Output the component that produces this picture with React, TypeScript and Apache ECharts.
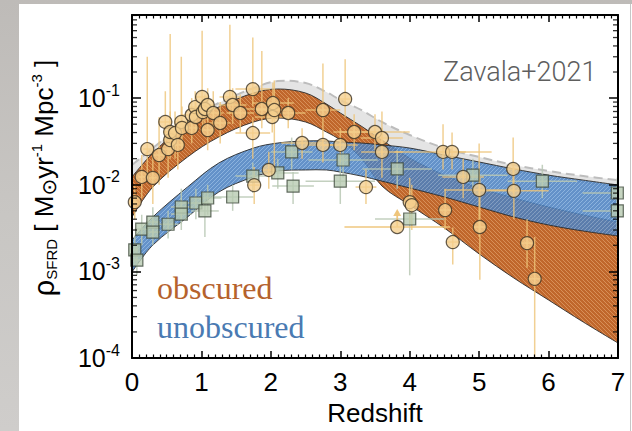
import React, { useEffect, useRef } from "react";
import * as echarts from "echarts";

// ---------- data ----------
// x grid shared by the model bands (redshift)
const bandZ = [0, 0.3, 0.8, 1.25, 1.75, 2.1, 2.5, 2.8, 3.0, 3.3, 3.6, 4.0, 4.5, 5.0, 5.5, 6.0, 6.5, 7.0];
// obscured (orange) band
const obscUpper = [0.0123, 0.0232, 0.0516, 0.0789, 0.1145, 0.1274, 0.1145, 0.0855, 0.0673, 0.0476, 0.0328, 0.0203, 0.0129, 0.00917, 0.00703, 0.00553, 0.00448, 0.00371];
const obscLower = [0.00424, 0.00941, 0.0209, 0.0356, 0.053, 0.0589, 0.053, 0.0406, 0.0328, 0.0203, 0.00966, 0.00583, 0.00316, 0.00159, 0.000838, 0.000467, 0.00026, 0.000149];
// unobscured (blue) band
const unobUpper = [0.0023, 0.00424, 0.00941, 0.0178, 0.0265, 0.0303, 0.032, 0.032, 0.0311, 0.0303, 0.0288, 0.0265, 0.022, 0.0183, 0.0152, 0.0129, 0.0113, 0.00993];
const unobLower = [0.000984, 0.00201, 0.00424, 0.00824, 0.0123, 0.0144, 0.0148, 0.0148, 0.014, 0.0126, 0.011, 0.00917, 0.00722, 0.00553, 0.00424, 0.00343, 0.00292, 0.00256];
// total (grey) band
const totalUpper = [0.0169, 0.0265, 0.0558, 0.0878, 0.1306, 0.1574, 0.1493, 0.1175, 0.0951, 0.0729, 0.053, 0.0375, 0.0265, 0.0209, 0.0169, 0.0144, 0.0126, 0.0113];
const totalLower = [0.00993, 0.0193, 0.0428, 0.0673, 0.1002, 0.1086, 0.1002, 0.0769, 0.0589, 0.0406, 0.028, 0.0239, 0.0203, 0.0169, 0.014, 0.012, 0.0105, 0.00917];

// measurements: [redshift, SFRD, redshift half-width, lower, upper]
const circles: number[][] = [
  [0.04, 0.0063, 0.04, 0.004, 0.01],
  [0.14, 0.0123, 0.05, 0.007, 0.022],
  [0.22, 0.0258, 0.06, 0.012, 0.3],
  [0.3, 0.012, 0.05, 0.006, 0.03],
  [0.39, 0.022, 0.1, 0.01, 0.06],
  [0.48, 0.053, 0.1, 0.03, 0.12],
  [0.52, 0.0258, 0.1, 0.012, 0.05],
  [0.55, 0.0328, 0.1, 0.02, 0.55],
  [0.55, 0.0406, 0.1, 0.025, 0.07],
  [0.62, 0.0395, 0.1, 0.02, 0.07],
  [0.66, 0.0288, 0.1, 0.015, 0.06],
  [0.71, 0.053, 0.1, 0.03, 0.3],
  [0.72, 0.0452, 0.1, 0.025, 0.08],
  [0.86, 0.0452, 0.1, 0.03, 0.07],
  [0.86, 0.0638, 0.15, 0.04, 0.1],
  [0.91, 0.0788, 0.1, 0.05, 0.12],
  [0.92, 0.0605, 0.1, 0.04, 0.09],
  [1.01, 0.103, 0.1, 0.07, 0.6],
  [1.02, 0.069, 0.1, 0.045, 0.1],
  [1.05, 0.0748, 0.15, 0.05, 0.11],
  [1.09, 0.0832, 0.1, 0.055, 0.13],
  [1.09, 0.0428, 0.1, 0.025, 0.07],
  [1.17, 0.0673, 0.15, 0.04, 0.12],
  [1.27, 0.0516, 0.15, 0.03, 0.09],
  [1.41, 0.103, 0.15, 0.065, 0.7],
  [1.45, 0.0832, 0.2, 0.05, 0.13],
  [1.56, 0.0673, 0.2, 0.04, 0.11],
  [1.74, 0.127, 0.25, 0.08, 0.5],
  [1.74, 0.0395, 0.25, 0.02, 0.06],
  [1.76, 0.0099, 0.1, 0.006, 0.016],
  [1.87, 0.0748, 0.25, 0.045, 0.35],
  [1.97, 0.0148, 0.1, 0.009, 0.024],
  [2.02, 0.0605, 0.25, 0.04, 0.09],
  [2.03, 0.0877, 0.3, 0.055, 0.15],
  [2.05, 0.0728, 0.25, 0.012, 0.16],
  [2.25, 0.0673, 0.25, 0.045, 0.1],
  [2.45, 0.0303, 0.3, 0.02, 0.045],
  [2.75, 0.0728, 0.25, 0.045, 0.25],
  [2.75, 0.0288, 0.25, 0.018, 0.045],
  [3.0, 0.0288, 0.25, 0.018, 0.045],
  [3.07, 0.0975, 0.1, 0.06, 0.28],
  [3.2, 0.0406, 0.3, 0.025, 0.065],
  [3.37, 0.0094, 0.15, 0.006, 0.015],
  [3.5, 0.0406, 0.5, 0.025, 0.065],
  [3.6, 0.0346, 0.3, 0.022, 0.07],
  [3.6, 0.0239, 0.3, 0.012, 0.045],
  [4.0, 0.0063, 0.1, 0.0035, 0.012],
  [4.03, 0.0058, 0.1, 0.003, 0.01],
  [4.48, 0.0239, 0.7, 0.015, 0.05],
  [4.61, 0.0239, 0.2, 0.015, 0.04],
  [4.51, 0.0051, 0.1, 0.003, 0.009],
  [4.62, 0.00218, 0.1, 0.0012, 0.0032],
  [4.77, 0.0123, 0.3, 0.007, 0.02],
  [5.0, 0.0087, 0.5, 0.0025, 0.03],
  [5.01, 0.00325, 0.1, 0.0008, 0.012],
  [5.49, 0.0152, 0.1, 0.008, 0.035],
  [5.5, 0.0085, 0.5, 0.004, 0.016],
  [5.69, 0.00212, 0.1, 0.0011, 0.004],
  [5.8, 0.00082, 0.1, 0.0001, 0.0025],
];
// lower limit: [redshift, SFRD, redshift half-width]
const circleLowerLimits: number[][] = [[3.82, 0.00325, 0.76]];

const squares: number[][] = [
  [0.04, 0.00177, 0.04, 0.0012, 0.0026],
  [0.07, 0.00135, 0.05, 0.0009, 0.002],
  [0.14, 0.00308, 0.1, 0.002, 0.0045],
  [0.3, 0.00371, 0.1, 0.0025, 0.0055],
  [0.3, 0.00284, 0.1, 0.002, 0.004],
  [0.52, 0.0035, 0.15, 0.0024, 0.005],
  [0.71, 0.00553, 0.15, 0.0035, 0.009],
  [0.71, 0.00459, 0.15, 0.003, 0.007],
  [0.92, 0.00615, 0.2, 0.004, 0.009],
  [1.05, 0.00498, 0.2, 0.0025, 0.008],
  [1.09, 0.00703, 0.2, 0.0045, 0.01],
  [1.45, 0.00722, 0.3, 0.005, 0.01],
  [1.74, 0.0126, 0.25, 0.008, 0.018],
  [2.1, 0.0137, 0.3, 0.009, 0.02],
  [2.32, 0.00966, 0.3, 0.006, 0.014],
  [2.3, 0.0239, 0.3, 0.015, 0.035],
  [3.0, 0.011, 0.5, 0.006, 0.02],
  [3.04, 0.0193, 0.5, 0.012, 0.03],
  [3.82, 0.0152, 0.5, 0.009, 0.025],
  [4.0, 0.00402, 0.5, 0.0009, 0.009],
  [4.91, 0.0129, 0.5, 0.008, 0.02],
  [5.91, 0.011, 0.5, 0.007, 0.017],
  [6.99, 0.00803, 0.5, 0.005, 0.012],
  [6.99, 0.00498, 0.5, 0.003, 0.008],
];

const yMin = 1e-4;
const yMax = 0.91;
const decades = [1e-4, 1e-3, 1e-2, 1e-1];
const minorMultipliers = [2, 3, 4, 5, 6, 7, 8, 9];

const SANS = "'Liberation Sans', Arial, Helvetica, sans-serif";
const SERIF = "'Liberation Serif', 'Times New Roman', serif";

function makeHatch(base: string, stripe: string, dir: number) {
  const c = document.createElement("canvas");
  const s = 4;
  c.width = s;
  c.height = s;
  const ctx = c.getContext("2d")!;
  ctx.fillStyle = base;
  ctx.fillRect(0, 0, s, s);
  ctx.strokeStyle = stripe;
  ctx.lineWidth = 1;
  ctx.beginPath();
  if (dir > 0) {
    ctx.moveTo(-1, s + 1); ctx.lineTo(s + 1, -1);
    ctx.moveTo(-1, 1); ctx.lineTo(1, -1);
    ctx.moveTo(s - 1, s + 1); ctx.lineTo(s + 1, s - 1);
  } else {
    ctx.moveTo(-1, -1); ctx.lineTo(s + 1, s + 1);
    ctx.moveTo(-1, s - 1); ctx.lineTo(1, s + 1);
    ctx.moveTo(s - 1, -1); ctx.lineTo(s + 1, 1);
  }
  ctx.stroke();
  return { image: c, repeat: "repeat" };
}

function bandSeries(upper: number[], lower: number[], fill: any, opacity: number, z: number, outline: boolean, dashedTop: boolean) {
  return {
    type: "custom",
    silent: true,
    clip: true,
    z,
    data: [[1, 0.01]],
    encode: { x: 0, y: 1 },
    renderItem: (_p: any, api: any) => {
      const top = bandZ.map((zz, i) => api.coord([zz, upper[i]]));
      const bot = bandZ.map((zz, i) => api.coord([zz, lower[i]])).reverse();
      const pts = [top[0], ...top, top[top.length - 1], bot[0], ...bot, bot[bot.length - 1]];
      const children: any[] = [
        { type: "polygon", shape: { points: pts, smooth: 0.35 }, style: { fill, opacity } },
      ];
      if (outline) {
        children.push({ type: "polyline", shape: { points: top, smooth: 0.35 }, style: { stroke: "#2a2a2a", lineWidth: 0.9, fill: null } });
        children.push({ type: "polyline", shape: { points: bot, smooth: 0.35 }, style: { stroke: "#2a2a2a", lineWidth: 0.9, fill: null } });
      }
      if (dashedTop) {
        children.push({ type: "polyline", shape: { points: top, smooth: 0.35 }, style: { stroke: "#bdbdbd", lineWidth: 2, lineDash: [9, 5], fill: null } });
      }
      return { type: "group", children };
    },
  };
}

function errorSeries(data: number[][], color: string, z: number) {
  return {
    type: "custom",
    silent: true,
    clip: true,
    z,
    data,
    encode: { x: 0, y: 1 },
    renderItem: (_p: any, api: any) => {
      const zz = api.value(0), v = api.value(1), dz = api.value(2), lo = api.value(3), hi = api.value(4);
      const a = api.coord([zz - dz, v]);
      const b = api.coord([zz + dz, v]);
      const c = api.coord([zz, lo]);
      const d = api.coord([zz, hi]);
      return {
        type: "group",
        children: [
          { type: "line", shape: { x1: a[0], y1: a[1], x2: b[0], y2: b[1] }, style: { stroke: color, lineWidth: 1.5 } },
          { type: "line", shape: { x1: c[0], y1: c[1], x2: d[0], y2: d[1] }, style: { stroke: color, lineWidth: 1.5 } },
        ],
      };
    },
  };
}

function limitSeries(data: number[][], color: string, z: number) {
  return {
    type: "custom",
    silent: true,
    clip: true,
    z,
    data,
    encode: { x: 0, y: 1 },
    renderItem: (_p: any, api: any) => {
      const zz = api.value(0), v = api.value(1), dz = api.value(2);
      const a = api.coord([zz - dz, v]);
      const b = api.coord([zz + dz, v]);
      const p = api.coord([zz, v]);
      return {
        type: "group",
        children: [
          { type: "line", shape: { x1: a[0], y1: a[1], x2: b[0], y2: b[1] }, style: { stroke: color, lineWidth: 1.5 } },
          { type: "line", shape: { x1: p[0], y1: p[1], x2: p[0], y2: p[1] - 16 }, style: { stroke: color, lineWidth: 1.8 } },
          { type: "polygon", shape: { points: [[p[0] - 4, p[1] - 11], [p[0] + 4, p[1] - 11], [p[0], p[1] - 18]] }, style: { fill: color } },
        ],
      };
    },
  };
}

export default function App() {
  const ref = useRef<HTMLDivElement>(null);
  useEffect(() => {
    if (!ref.current) return;
    const chart = echarts.init(ref.current, undefined, { renderer: "svg" });
    const orangeFill = makeHatch("#c0672c", "#d88f58", -1);
    const blueFill = makeHatch("#4a80c0", "#79a6d8", 1);

    const minorVals: number[][] = [];
    decades.forEach((d) => minorMultipliers.forEach((m) => { if (m * d < yMax) minorVals.push([m * d]); }));

    const axisLineStyle = { color: "#000", width: 2 };
    const xBase = {
      type: "value",
      min: 0,
      max: 7,
      interval: 1,
      z: 10,
      axisLine: { show: true, onZero: false, lineStyle: axisLineStyle },
      axisTick: { show: true, inside: true, length: 7, lineStyle: { color: "#000", width: 1.5 } },
      minorTick: { show: true, splitNumber: 10, length: 3.5, lineStyle: { color: "#000", width: 1.2 } },
      splitLine: { show: false },
      minorSplitLine: { show: false },
    };
    const yBase = {
      type: "log",
      logBase: 10,
      min: yMin,
      max: yMax,
      splitNumber: 4,
      z: 10,
      axisLine: { show: true, onZero: false, lineStyle: axisLineStyle },
      axisTick: { show: true, inside: true, length: 9, lineStyle: { color: "#000", width: 1.5 } },
      splitLine: { show: false },
    };

    const titleRich = {
      r: { fontSize: 29, lineHeight: 30, fill: "#000", color: "#000", fontFamily: SANS, verticalAlign: "middle" },
      t: { fontSize: 26, lineHeight: 30, fill: "#000", color: "#000", fontFamily: SANS, verticalAlign: "middle" },
      sub: { fontSize: 15, lineHeight: 16, fill: "#000", color: "#000", fontFamily: SANS, verticalAlign: "bottom" },
      sun: { fontSize: 20, lineHeight: 22, fill: "#000", color: "#000", fontFamily: "'DejaVu Sans', sans-serif", verticalAlign: "bottom" },
      sup: { fontSize: 15, lineHeight: 16, fill: "#000", color: "#000", fontFamily: SANS, verticalAlign: "top" },
    };

    chart.setOption({
      animation: false,
      backgroundColor: "transparent",
      grid: { left: 113, right: 14, top: 11, bottom: 73, containLabel: false, outerBoundsMode: "none" },
      xAxis: [
        {
          ...xBase,
          position: "bottom",
          axisLabel: { fontSize: 26, color: "#000", margin: 11, fontFamily: SANS },
          name: "Redshift",
          nameLocation: "middle",
          nameGap: 39,
          nameTextStyle: { fontSize: 26, color: "#000", fontFamily: SANS },
        },
        { ...xBase, position: "top", axisLabel: { show: false } },
      ],
      yAxis: [
        {
          ...yBase,
          position: "left",
          axisLabel: {
            margin: 12,
            showMaxLabel: false,
            formatter: (v: number) => {
              const l = Math.log10(v);
              const e = Math.round(l);
              if (Math.abs(l - e) > 1e-6) return "";
              return `{b|10}{s|${e}}`;
            },
            rich: {
              b: { fontSize: 25, lineHeight: 32, color: "#000", fontFamily: SANS, verticalAlign: "middle" },
              s: { fontSize: 16, lineHeight: 16, color: "#000", fontFamily: SANS, verticalAlign: "top" },
            },
          },
        },
        { ...yBase, position: "right", axisLabel: { show: false } },
      ],
      graphic: [
        {
          type: "text",
          x: 25,
          y: 174,
          rotation: Math.PI / 2,
          style: {
            text: "{r|ρ}{sub|SFRD}{t| [ M}{sun|⊙}{t|yr}{sup|-1}{t| Mpc}{sup|-3}{t| ]}",
            rich: titleRich,
            fill: "#000",
            textAlign: "center",
            textVerticalAlign: "middle",
            align: "center",
            verticalAlign: "middle",
          },
        },
        { type: "text", x: 138, y: 284, style: { text: "obscured", fontSize: 32, fontFamily: SERIF, fill: "#b5622d", textVerticalAlign: "middle" } },
        { type: "text", x: 138, y: 323, style: { text: "unobscured", fontSize: 32, fontFamily: SERIF, fill: "#4a7ab2", textVerticalAlign: "middle" } },
        { type: "text", x: 424, y: 68, style: { text: "Zavala+2021", fontSize: 27, fontWeight: 300, fontFamily: "Roboto, 'Noto Sans', sans-serif", fill: "#5e5e5e", textVerticalAlign: "middle" } },
      ],
      series: [
        bandSeries(totalUpper, totalLower, "#e4e4e4", 1, 1, false, true),
        bandSeries(obscUpper, obscLower, orangeFill, 1, 2, true, false),
        bandSeries(unobUpper, unobLower, blueFill, 0.86, 3, true, false),
        errorSeries(squares, "rgba(185,200,180,0.85)", 4),
        errorSeries(circles, "rgba(238,196,120,0.8)", 4),
        limitSeries(circleLowerLimits, "rgba(238,196,120,0.95)", 4),
        {
          type: "scatter",
          silent: true,
          z: 5,
          symbol: "rect",
          symbolSize: 12,
          data: squares.map((s) => [s[0], s[1]]),
          itemStyle: { color: "#b8cab2", borderColor: "#3e4a3c", borderWidth: 1.2 },
        },
        {
          type: "scatter",
          silent: true,
          z: 6,
          symbol: "circle",
          symbolSize: 13,
          data: [...circles, ...circleLowerLimits].map((c) => [c[0], c[1]]),
          itemStyle: { color: "#f5d08f", borderColor: "#3b3224", borderWidth: 1.2 },
        },
        {
          type: "scatter",
          silent: true,
          z: 11,
          symbol: "rect",
          symbolSize: [5, 1.3],
          symbolOffset: [2.5, 0],
          data: minorVals.map((v) => [0, v[0]]),
          itemStyle: { color: "#000" },
        },
        {
          type: "scatter",
          silent: true,
          z: 11,
          symbol: "rect",
          symbolSize: [5, 1.3],
          symbolOffset: [-2.5, 0],
          data: minorVals.map((v) => [7, v[0]]),
          itemStyle: { color: "#000" },
        },
      ],
    });
    return () => chart.dispose();
  }, []);

  return (
    <div style={{ position: "fixed", left: 0, top: 0, width: 632, height: 431, overflow: "hidden", background: "linear-gradient(180deg, #bebbb8 0%, #c8c6c3 50%, #cfcdcb 100%)" }}>
      <div ref={ref} style={{ position: "absolute", left: 19, top: 4, width: 613, height: 427, background: "#ffffff" }} />
      <div style={{ position: "absolute", left: 630, top: 4, width: 1, height: 427, background: "#c6c6c6" }} />
    </div>
  );
}
